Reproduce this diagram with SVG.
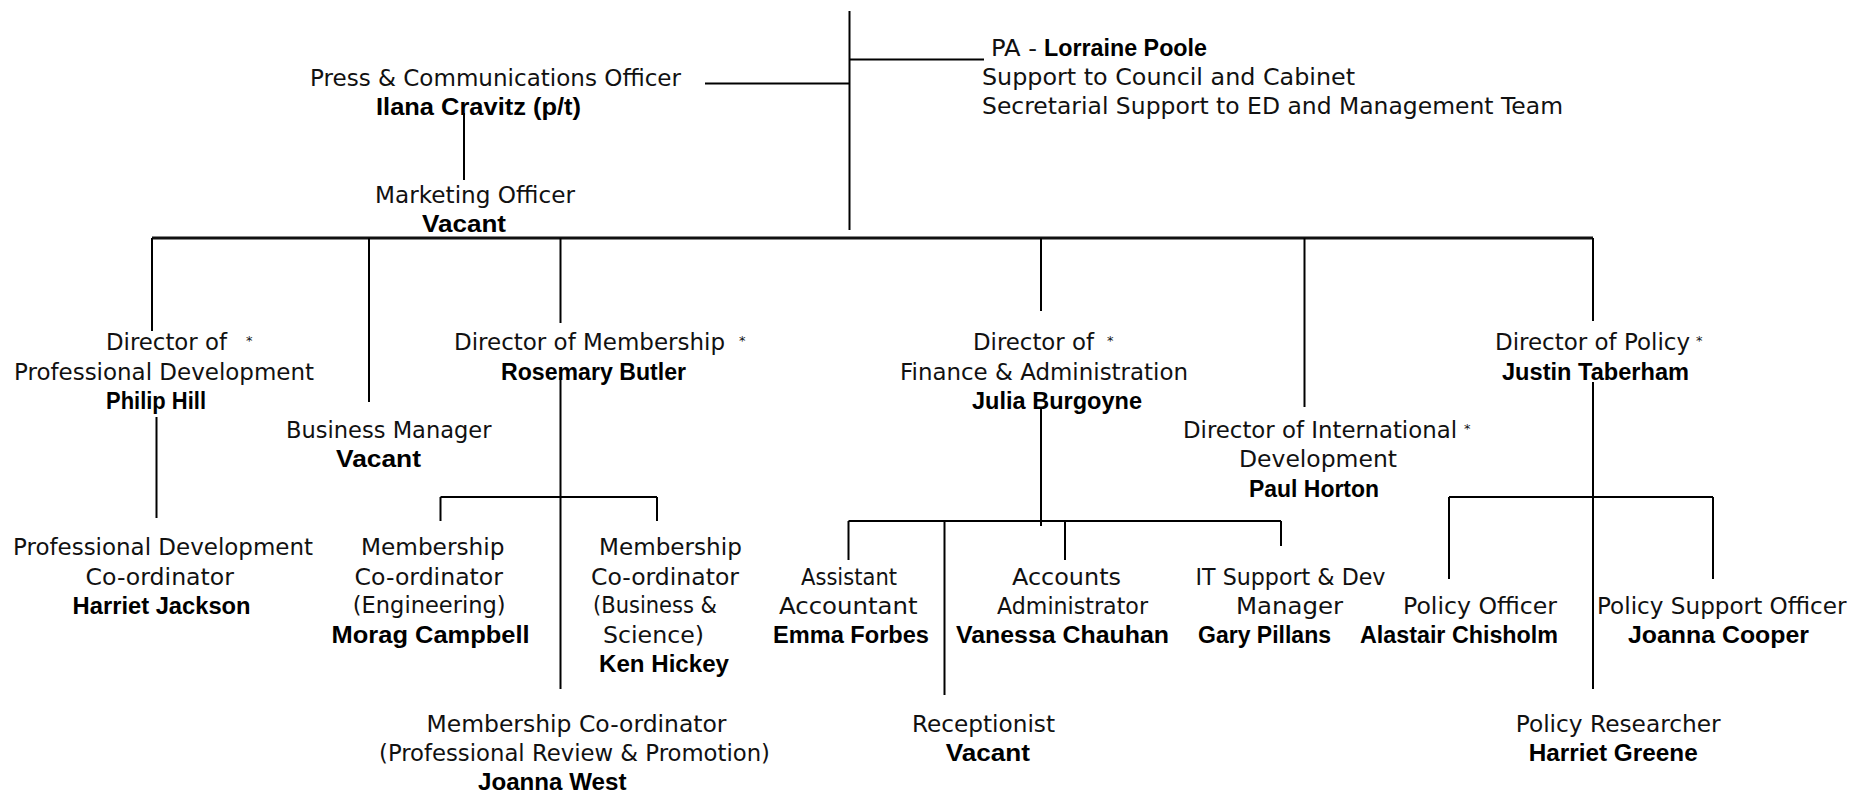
<svg xmlns="http://www.w3.org/2000/svg" width="1851" height="794" viewBox="0 0 1851 794">
  <style>
    .t { font-family: "DejaVu Sans", "Liberation Sans", sans-serif; font-size: 23px; fill: #111; }
    .b { font-family: "Liberation Sans", "DejaVu Sans", sans-serif; font-size: 23.5px; font-weight: bold; fill: #000; }
    .s { font-family: "DejaVu Sans", sans-serif; font-size: 13px; fill: #111; }
    .ln { stroke: #000; stroke-width: 2; fill: none; stroke-linecap: butt; }
    .main { stroke: #111; stroke-width: 3; fill: none; }
  </style>
  <rect width="1851" height="794" fill="#fff"/>

  <!-- reporting lines -->
  <g id="connectors">
    <line class="ln" x1="849.5" y1="11" x2="849.5" y2="230"/>
    <line class="ln" x1="849.5" y1="59.5" x2="984" y2="59.5"/>
    <line class="ln" x1="705" y1="83.5" x2="849.5" y2="83.5"/>
    <line class="ln" x1="464" y1="113" x2="464" y2="180"/>

    <line class="main" x1="152" y1="238" x2="1593" y2="238"/>
    <line class="ln" x1="152" y1="238" x2="152" y2="331"/>
    <line class="ln" x1="369" y1="238" x2="369" y2="402"/>
    <line class="ln" x1="560.5" y1="238" x2="560.5" y2="323"/>
    <line class="ln" x1="1041" y1="238" x2="1041" y2="311"/>
    <line class="ln" x1="1304.5" y1="238" x2="1304.5" y2="407"/>
    <line class="ln" x1="1593" y1="238" x2="1593" y2="321"/>

    <line class="ln" x1="156.5" y1="417" x2="156.5" y2="518"/>

    <line class="ln" x1="560.5" y1="378" x2="560.5" y2="689"/>
    <line class="ln" x1="440.5" y1="497" x2="657" y2="497"/>
    <line class="ln" x1="440.5" y1="497" x2="440.5" y2="521"/>
    <line class="ln" x1="657" y1="497" x2="657" y2="521"/>

    <line class="ln" x1="1041" y1="408" x2="1041" y2="526"/>
    <line class="ln" x1="848.5" y1="521" x2="1281" y2="521"/>
    <line class="ln" x1="848.5" y1="521" x2="848.5" y2="560"/>
    <line class="ln" x1="944.5" y1="521" x2="944.5" y2="695"/>
    <line class="ln" x1="1065" y1="521" x2="1065" y2="560"/>
    <line class="ln" x1="1281" y1="521" x2="1281" y2="546"/>

    <line class="ln" x1="1593" y1="382" x2="1593" y2="689"/>
    <line class="ln" x1="1449" y1="497" x2="1713" y2="497"/>
    <line class="ln" x1="1449" y1="497" x2="1449" y2="579"/>
    <line class="ln" x1="1713" y1="497" x2="1713" y2="579"/>
  </g>

  <g id="press-officer">
    <text class="t" x="310" y="86" textLength="371" lengthAdjust="spacingAndGlyphs">Press &amp; Communications Officer</text>
    <text class="b" x="376" y="115" textLength="205" lengthAdjust="spacingAndGlyphs">Ilana Cravitz (p/t)</text>
  </g>
  <g id="marketing-officer">
    <text class="t" x="375" y="203" textLength="200" lengthAdjust="spacingAndGlyphs">Marketing Officer</text>
    <text class="b" x="422" y="232" textLength="84" lengthAdjust="spacingAndGlyphs">Vacant</text>
  </g>
  <g id="pa">
    <text class="t" x="991" y="56" textLength="46" lengthAdjust="spacingAndGlyphs">PA -</text>
    <text class="b" x="1044" y="56" textLength="163" lengthAdjust="spacingAndGlyphs">Lorraine Poole</text>
    <text class="t" x="982" y="85" textLength="373" lengthAdjust="spacingAndGlyphs">Support to Council and Cabinet</text>
    <text class="t" x="982" y="114" textLength="581" lengthAdjust="spacingAndGlyphs">Secretarial Support to ED and Management Team</text>
  </g>

  <g id="dir-professional-development">
    <text class="t" x="106" y="350" textLength="121" lengthAdjust="spacingAndGlyphs">Director of</text>
    <text class="s" x="246" y="345">*</text>
    <text class="t" x="14" y="380" textLength="300" lengthAdjust="spacingAndGlyphs">Professional Development</text>
    <text class="b" x="106" y="409" textLength="100" lengthAdjust="spacingAndGlyphs">Philip Hill</text>
  </g>
  <g id="business-manager">
    <text class="t" x="286" y="438" textLength="205.5" lengthAdjust="spacingAndGlyphs">Business Manager</text>
    <text class="b" x="336" y="467" textLength="85" lengthAdjust="spacingAndGlyphs">Vacant</text>
  </g>
  <g id="dir-membership">
    <text class="t" x="454" y="350" textLength="271" lengthAdjust="spacingAndGlyphs">Director of Membership</text>
    <text class="s" x="739" y="345">*</text>
    <text class="b" x="501" y="380" textLength="185" lengthAdjust="spacingAndGlyphs">Rosemary Butler</text>
  </g>
  <g id="dir-finance">
    <text class="t" x="973" y="350" textLength="121" lengthAdjust="spacingAndGlyphs">Director of</text>
    <text class="s" x="1107" y="345">*</text>
    <text class="t" x="900" y="380" textLength="288" lengthAdjust="spacingAndGlyphs">Finance &amp; Administration</text>
    <text class="b" x="972" y="409" textLength="170" lengthAdjust="spacingAndGlyphs">Julia Burgoyne</text>
  </g>
  <g id="dir-international">
    <text class="t" x="1183" y="438" textLength="274" lengthAdjust="spacingAndGlyphs">Director of International</text>
    <text class="s" x="1464" y="433">*</text>
    <text class="t" x="1239" y="467" textLength="158" lengthAdjust="spacingAndGlyphs">Development</text>
    <text class="b" x="1249" y="497" textLength="130" lengthAdjust="spacingAndGlyphs">Paul Horton</text>
  </g>
  <g id="dir-policy">
    <text class="t" x="1495" y="350" textLength="195" lengthAdjust="spacingAndGlyphs">Director of Policy</text>
    <text class="s" x="1696" y="345">*</text>
    <text class="b" x="1502" y="380" textLength="187" lengthAdjust="spacingAndGlyphs">Justin Taberham</text>
  </g>

  <g id="pd-coordinator">
    <text class="t" x="13" y="555" textLength="300" lengthAdjust="spacingAndGlyphs">Professional Development</text>
    <text class="t" x="85.5" y="585" textLength="148.5" lengthAdjust="spacingAndGlyphs">Co-ordinator</text>
    <text class="b" x="72.6" y="614" textLength="178" lengthAdjust="spacingAndGlyphs">Harriet Jackson</text>
  </g>
  <g id="membership-engineering">
    <text class="t" x="361" y="555" textLength="143.4" lengthAdjust="spacingAndGlyphs">Membership</text>
    <text class="t" x="354.6" y="585" textLength="148.4" lengthAdjust="spacingAndGlyphs">Co-ordinator</text>
    <text class="t" x="352.8" y="613" textLength="152.8" lengthAdjust="spacingAndGlyphs">(Engineering)</text>
    <text class="b" x="331.6" y="643" textLength="198" lengthAdjust="spacingAndGlyphs">Morag Campbell</text>
  </g>
  <g id="membership-business">
    <text class="t" x="599" y="555" textLength="142.8" lengthAdjust="spacingAndGlyphs">Membership</text>
    <text class="t" x="591" y="585" textLength="148" lengthAdjust="spacingAndGlyphs">Co-ordinator</text>
    <text class="t" x="593" y="613" textLength="124" lengthAdjust="spacingAndGlyphs">(Business &amp;</text>
    <text class="t" x="603" y="643" textLength="101" lengthAdjust="spacingAndGlyphs">Science)</text>
    <text class="b" x="599" y="672" textLength="130" lengthAdjust="spacingAndGlyphs">Ken Hickey</text>
  </g>
  <g id="membership-review">
    <text class="t" x="426.5" y="731.7" textLength="300" lengthAdjust="spacingAndGlyphs">Membership Co-ordinator</text>
    <text class="t" x="379" y="760.7" textLength="391" lengthAdjust="spacingAndGlyphs">(Professional Review &amp; Promotion)</text>
    <text class="b" x="478" y="790" textLength="148.5" lengthAdjust="spacingAndGlyphs">Joanna West</text>
  </g>
  <g id="assistant-accountant">
    <text class="t" x="801" y="585" textLength="96" lengthAdjust="spacingAndGlyphs">Assistant</text>
    <text class="t" x="779" y="614" textLength="138.6" lengthAdjust="spacingAndGlyphs">Accountant</text>
    <text class="b" x="773" y="643" textLength="156" lengthAdjust="spacingAndGlyphs">Emma Forbes</text>
  </g>
  <g id="receptionist">
    <text class="t" x="912" y="731.7" textLength="143" lengthAdjust="spacingAndGlyphs">Receptionist</text>
    <text class="b" x="945.7" y="760.7" textLength="84.3" lengthAdjust="spacingAndGlyphs">Vacant</text>
  </g>
  <g id="accounts-administrator">
    <text class="t" x="1012" y="585" textLength="109" lengthAdjust="spacingAndGlyphs">Accounts</text>
    <text class="t" x="997" y="614" textLength="151" lengthAdjust="spacingAndGlyphs">Administrator</text>
    <text class="b" x="956" y="643" textLength="213" lengthAdjust="spacingAndGlyphs">Vanessa Chauhan</text>
  </g>
  <g id="it-support">
    <text class="t" x="1195.5" y="585" textLength="190" lengthAdjust="spacingAndGlyphs">IT Support &amp; Dev</text>
    <text class="t" x="1236" y="614" textLength="107" lengthAdjust="spacingAndGlyphs">Manager</text>
    <text class="b" x="1198" y="643" textLength="133" lengthAdjust="spacingAndGlyphs">Gary Pillans</text>
  </g>
  <g id="policy-officer">
    <text class="t" x="1403" y="614" textLength="154" lengthAdjust="spacingAndGlyphs">Policy Officer</text>
    <text class="b" x="1360" y="643" textLength="198" lengthAdjust="spacingAndGlyphs">Alastair Chisholm</text>
  </g>
  <g id="policy-support-officer">
    <text class="t" x="1597" y="614" textLength="249.5" lengthAdjust="spacingAndGlyphs">Policy Support Officer</text>
    <text class="b" x="1628" y="643" textLength="181" lengthAdjust="spacingAndGlyphs">Joanna Cooper</text>
  </g>
  <g id="policy-researcher">
    <text class="t" x="1515.7" y="731.7" textLength="205" lengthAdjust="spacingAndGlyphs">Policy Researcher</text>
    <text class="b" x="1528.7" y="760.7" textLength="169" lengthAdjust="spacingAndGlyphs">Harriet Greene</text>
  </g>
</svg>
